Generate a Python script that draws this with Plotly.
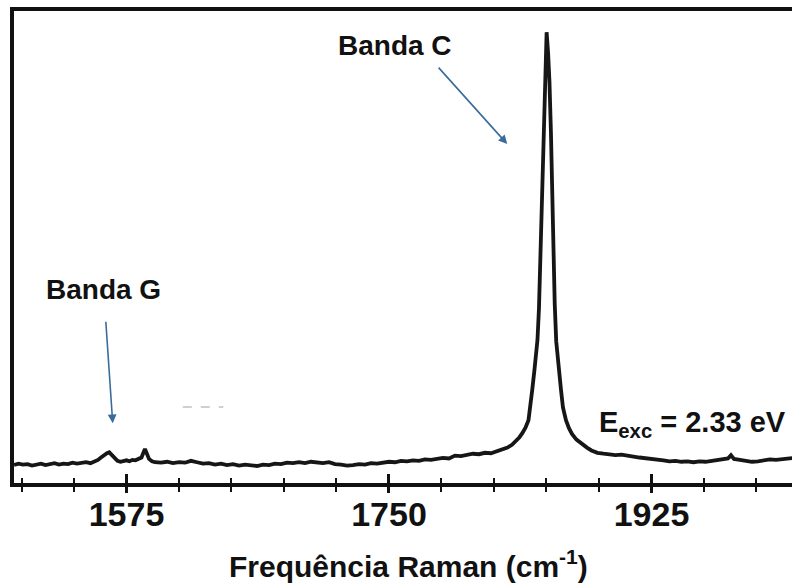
import plotly.graph_objects as go

# ---- data (Raman spectrum, arbitrary intensity units) ----
raman_shift = [
    1500, 1503, 1506, 1509, 1512, 1515, 1518, 1521, 1524, 1527, 1530, 1533, 1536, 1539,
    1542, 1545, 1548, 1551, 1554, 1556, 1558, 1560, 1562, 1563.5, 1565, 1567, 1569, 1571,
    1573, 1575, 1577, 1579, 1581, 1583, 1585, 1586, 1587.3, 1588.5, 1590, 1592,
    1594, 1598, 1602, 1606, 1610, 1614, 1618, 1622, 1626, 1630, 1634, 1638, 1642, 1646,
    1650, 1654, 1658, 1662, 1666, 1670, 1674, 1678, 1682, 1686, 1690, 1694, 1698, 1702,
    1706, 1710, 1714, 1718, 1722, 1726, 1730, 1734, 1738, 1742, 1746, 1750, 1754, 1758,
    1762, 1766, 1770, 1774, 1778, 1782, 1786, 1790, 1794, 1798, 1802, 1806, 1810, 1814,
    1818, 1821, 1824, 1826, 1829, 1832, 1835, 1837, 1839, 1841, 1843, 1844.5, 1845.5,
    1847, 1849, 1850, 1851, 1852, 1852.8, 1853.5, 1854.2, 1855.1, 1856.1, 1857, 1858,
    1859, 1859.7, 1860.5, 1861.5, 1863, 1864.7, 1866, 1868, 1870, 1872, 1875, 1878,
    1882, 1885, 1889, 1893, 1897, 1901, 1905, 1909, 1913, 1917, 1921, 1925, 1929, 1933,
    1937, 1941, 1945, 1949, 1953, 1957, 1961, 1965, 1969, 1973, 1976, 1978, 1980, 1984,
    1988, 1992, 1996, 2000, 2004, 2008, 2012, 2016, 2020,
]
intensity = [
    3.8, 4.1, 3.9, 4.0, 3.7, 4.0, 4.1, 3.8, 3.9, 4.2, 3.9, 4.1, 4.0, 4.3,
    4.1, 4.2, 4.4, 4.2, 4.6, 4.9, 5.4, 5.9, 6.3, 6.5, 6.0, 5.3, 4.7, 4.5,
    4.7, 4.8, 4.6, 4.9, 4.8, 5.1, 5.4, 6.2, 7.2, 6.3, 5.1, 4.6,
    4.4, 4.3, 4.5, 4.2, 4.4, 4.3, 4.7, 4.4, 4.1, 4.2, 3.9, 4.1, 3.8, 4.0,
    3.7, 3.9, 3.8, 3.6, 3.9, 3.8, 4.1, 4.0, 4.3, 4.2, 4.4, 4.2, 4.5, 4.3,
    4.2, 4.4, 4.0, 3.9, 3.7, 3.8, 4.0, 3.9, 4.2, 4.1, 4.4, 4.5, 4.4, 4.7,
    4.6, 4.8, 4.7, 5.0, 4.9, 5.1, 5.3, 5.2, 5.8, 5.7, 5.9, 6.2, 6.1, 6.4,
    6.3, 6.6, 6.9, 7.2, 7.5, 8.1, 9.0, 9.7, 10.6, 11.7, 13.3, 16.5, 19.7,
    24.0, 30.3, 37.0, 49.0, 62.0, 72.0, 82.0, 90.0, 95.5, 91.0, 85.0, 74.0,
    58.0, 48.0, 38.0, 30.0, 24.0, 19.7, 16.0, 13.3, 11.6, 10.4, 9.2, 8.4,
    7.5, 6.9, 6.4, 6.2, 6.0, 5.9, 6.0, 5.7, 5.6, 5.4, 5.3, 5.1, 4.9, 4.8,
    4.6, 4.7, 4.5, 4.6, 4.4, 4.6, 4.5, 4.7, 4.8, 5.0, 5.2, 5.9, 5.1, 4.9,
    4.6, 4.5, 4.6, 4.8, 5.0, 4.9, 5.1, 5.2, 5.3,
]
major_tick_vals = [1575, 1750, 1925]
major_tick_text = ["1575", "1750", "1925"]
x_range = [1500, 2018.7]
y_range = [0, 100]

FONT = "Liberation Sans, Arial, sans-serif"
ARROW = "#3a6b9c"

fig = go.Figure()
fig.add_trace(go.Scatter(
    x=raman_shift, y=intensity, mode="lines",
    line=dict(color="#161616", width=3.8, shape="linear"),
    hoverinfo="skip", showlegend=False,
))
# invisible trace on the overlay axis so that its ticks are rendered
fig.add_trace(go.Scatter(x=raman_shift[:1], y=intensity[:1], xaxis="x2", mode="lines",
                         line=dict(width=0), hoverinfo="skip", showlegend=False))

fig.update_layout(
    width=792, height=585,
    margin=dict(l=14, r=0, t=11, b=102),
    paper_bgcolor="white", plot_bgcolor="white",
    xaxis=dict(
        range=x_range, showgrid=False, zeroline=False,
        showline=True, linecolor="#111", linewidth=3.5, mirror=True,
        tickmode="array", tickvals=major_tick_vals, showticklabels=False,
        ticks="outside", ticklen=6, tickwidth=2.5, tickcolor="#111",
        minor=dict(dtick=35, tick0=1505, ticks="outside", ticklen=5,
                   tickwidth=2.2, tickcolor="#111", showgrid=False),
    ),
    xaxis2=dict(
        range=x_range, overlaying="x", anchor="y", side="bottom",
        showgrid=False, zeroline=False, showline=False,
        tickmode="array", tickvals=major_tick_vals, ticktext=major_tick_text,
        ticks="inside", ticklen=9, tickwidth=2.5, tickcolor="#111",
        ticklabelstandoff=8,
        tickfont=dict(family=FONT, size=34, color="#111", weight="bold"),
        minor=dict(dtick=35, tick0=1505, ticks="inside", ticklen=5,
                   tickwidth=2.2, tickcolor="#111", showgrid=False),
    ),
    yaxis=dict(
        range=y_range, showgrid=False, zeroline=False,
        showline=True, linecolor="#111", linewidth=3.5, mirror=False,
        showticklabels=False, ticks="",
    ),
    showlegend=False,
)

annotations = [
    dict(text="<b>Banda C</b>", xref="paper", yref="paper", x=0.4897, y=0.926,
         xanchor="center", yanchor="middle", showarrow=False,
         font=dict(family=FONT, size=28, color="#111")),
    dict(text="<b>Banda G</b>", xref="paper", yref="paper", x=0.1144, y=0.411,
         xanchor="center", yanchor="middle", showarrow=False,
         font=dict(family=FONT, size=28, color="#111")),
    dict(text="<b>E<sub>exc</sub> = 2.33 eV</b>", xref="paper", yref="paper",
         x=0.749, y=0.125, xanchor="left", yanchor="middle", showarrow=False,
         font=dict(family=FONT, size=29, color="#111")),
    dict(text="<b>Frequência Raman (cm<sup>-1</sup>)</b>", xref="paper", yref="paper",
         x=0.5077, y=-0.172, xanchor="center", yanchor="middle", showarrow=False,
         font=dict(family=FONT, size=30, color="#111")),
    # arrows
    dict(text="", xref="paper", yref="paper", x=0.634, y=0.718, ax=-70, ay=-78,
         showarrow=True, arrowhead=2, arrowsize=1.1, arrowwidth=1.6, arrowcolor=ARROW),
    dict(text="", xref="paper", yref="paper", x=0.1269, y=0.1265, ax=-7, ay=-103,
         showarrow=True, arrowhead=2, arrowsize=1.1, arrowwidth=1.6, arrowcolor=ARROW),
]
fig.update_layout(annotations=annotations)

# faint grey dashes (scan artefact in the original)
fig.add_shape(type="line", xref="paper", yref="paper", x0=0.217, x1=0.269,
              y0=0.161, y1=0.161, line=dict(color="#cfcfcf", width=2, dash="dash"))

fig.write_html("out.html")
